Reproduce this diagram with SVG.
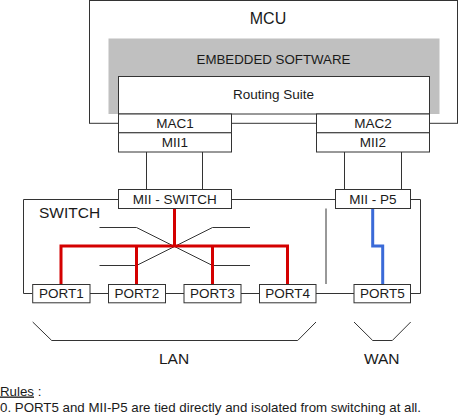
<svg xmlns="http://www.w3.org/2000/svg" width="459" height="416" viewBox="0 0 459 416">
<style>
.b{fill:#fff;stroke:#333;stroke-width:1}
.l{fill:none;stroke:#333;stroke-width:1}
.t{font-family:"Liberation Sans",Arial,sans-serif;fill:#1a1a1a;text-anchor:middle;font-size:13.5px}
.red{fill:none;stroke:#d40000;stroke-width:3}
.blue{fill:none;stroke:#3a6ad8;stroke-width:3}
</style>
<rect width="459" height="416" fill="#fff"/>
<g id="mcu">
<rect class="b" x="89.5" y="0.5" width="368" height="122.8"/>
<text class="t" x="268" y="24" style="font-size:16px">MCU</text>
</g>
<g id="embedded-software">
<rect x="108.5" y="38.5" width="331" height="75.5" fill="#c0c0c0"/>
<text class="t" x="273.5" y="64" style="font-size:13.3px">EMBEDDED SOFTWARE</text>
</g>
<g id="routing-suite">
<rect class="b" x="118.5" y="76.5" width="311" height="37.5"/>
<text class="t" x="273.5" y="99">Routing Suite</text>
</g>
<g id="mac1">
<rect class="b" x="118.5" y="114" width="113" height="18.8"/>
<text class="t" x="175" y="128">MAC1</text>
</g>
<g id="mii1">
<rect class="b" x="118.5" y="132.8" width="113" height="19.2"/>
<text class="t" x="175" y="147">MII1</text>
</g>
<g id="mac2">
<rect class="b" x="316.5" y="114" width="113" height="18.8"/>
<text class="t" x="373" y="128">MAC2</text>
</g>
<g id="mii2">
<rect class="b" x="316.5" y="132.8" width="113" height="19.2"/>
<text class="t" x="373" y="147">MII2</text>
</g>
<g id="connectors">
<line class="l" x1="146.5" y1="152" x2="146.5" y2="189.5"/>
<line class="l" x1="202.5" y1="152" x2="202.5" y2="189.5"/>
<line class="l" x1="344.5" y1="152" x2="344.5" y2="189.5"/>
<line class="l" x1="401.5" y1="152" x2="401.5" y2="189.5"/>
<polyline class="l" points="118.5,199.5 23.5,199.5 23.5,293.5 32.5,293.5"/>
<line class="l" x1="231.5" y1="199.5" x2="335.5" y2="199.5"/>
<polyline class="l" points="410.5,199.5 420.5,199.5 420.5,293.5 410.5,293.5"/>
<line class="l" x1="90" y1="293.5" x2="108.5" y2="293.5"/>
<line class="l" x1="165.5" y1="293.5" x2="184" y2="293.5"/>
<line class="l" x1="241" y1="293.5" x2="259.5" y2="293.5"/>
<line class="l" x1="316" y1="293.5" x2="354" y2="293.5"/>
<line class="l" x1="326" y1="208.5" x2="326" y2="284" stroke="#444"/>
<polyline class="l" points="99.5,227.5 136.5,227.5 212.5,265.5 250,265.5"/>
<polyline class="l" points="99.5,265.5 136.5,265.5 212.5,227.5 250,227.5"/>
<line class="red" x1="174.5" y1="208.5" x2="174.5" y2="246"/>
<polyline class="red" points="61,284 61,246 287.5,246 287.5,284"/>
<line class="red" x1="136.5" y1="246" x2="136.5" y2="284"/>
<line class="red" x1="212.5" y1="246" x2="212.5" y2="284"/>
<polyline class="blue" points="372.7,208.5 372.7,246 382.7,246 382.7,284"/>
<polyline class="l" points="32.7,322 51.7,340.5 297.7,340.5 316,322"/>
<polyline class="l" points="354,322 372.7,340.5 392.3,340.5 410.7,322"/>
</g>
<g id="mii-switch">
<rect class="b" x="118.5" y="189.5" width="113" height="19"/>
<text class="t" x="174.8" y="203.5">MII - SWITCH</text>
</g>
<g id="mii-p5">
<rect class="b" x="335.5" y="189.5" width="75" height="19"/>
<text class="t" x="373" y="203.5">MII - P5</text>
</g>
<g id="switch-label">
<text class="t" x="39" y="217.5" style="font-size:15.5px;text-anchor:start">SWITCH</text>
</g>
<g id="port1">
<rect class="b" x="32.7" y="284.5" width="57.3" height="18.3"/>
<text class="t" x="61.3" y="298.3">PORT1</text>
</g>
<g id="port2">
<rect class="b" x="108.5" y="284.5" width="57" height="18.3"/>
<text class="t" x="137" y="298.3">PORT2</text>
</g>
<g id="port3">
<rect class="b" x="184" y="284.5" width="57" height="18.3"/>
<text class="t" x="212.5" y="298.3">PORT3</text>
</g>
<g id="port4">
<rect class="b" x="259.5" y="284.5" width="56.5" height="18.3"/>
<text class="t" x="287.7" y="298.3">PORT4</text>
</g>
<g id="port5">
<rect class="b" x="354" y="284.5" width="56.5" height="18.3"/>
<text class="t" x="382.3" y="298.3">PORT5</text>
</g>
<g id="lan-label">
<text class="t" x="174" y="363.5" style="font-size:15.5px">LAN</text>
</g>
<g id="wan-label">
<text class="t" x="381.7" y="363.5" style="font-size:15.5px">WAN</text>
</g>
<g id="rules">
<text class="t" x="0" y="395.5" style="font-size:13.3px;text-anchor:start"><tspan text-decoration="underline">Rules</tspan> :</text>
<text class="t" x="0" y="411.5" style="font-size:13.3px;text-anchor:start">0. PORT5 and MII-P5 are tied directly and isolated from switching at all.</text>
</g>
</svg>
